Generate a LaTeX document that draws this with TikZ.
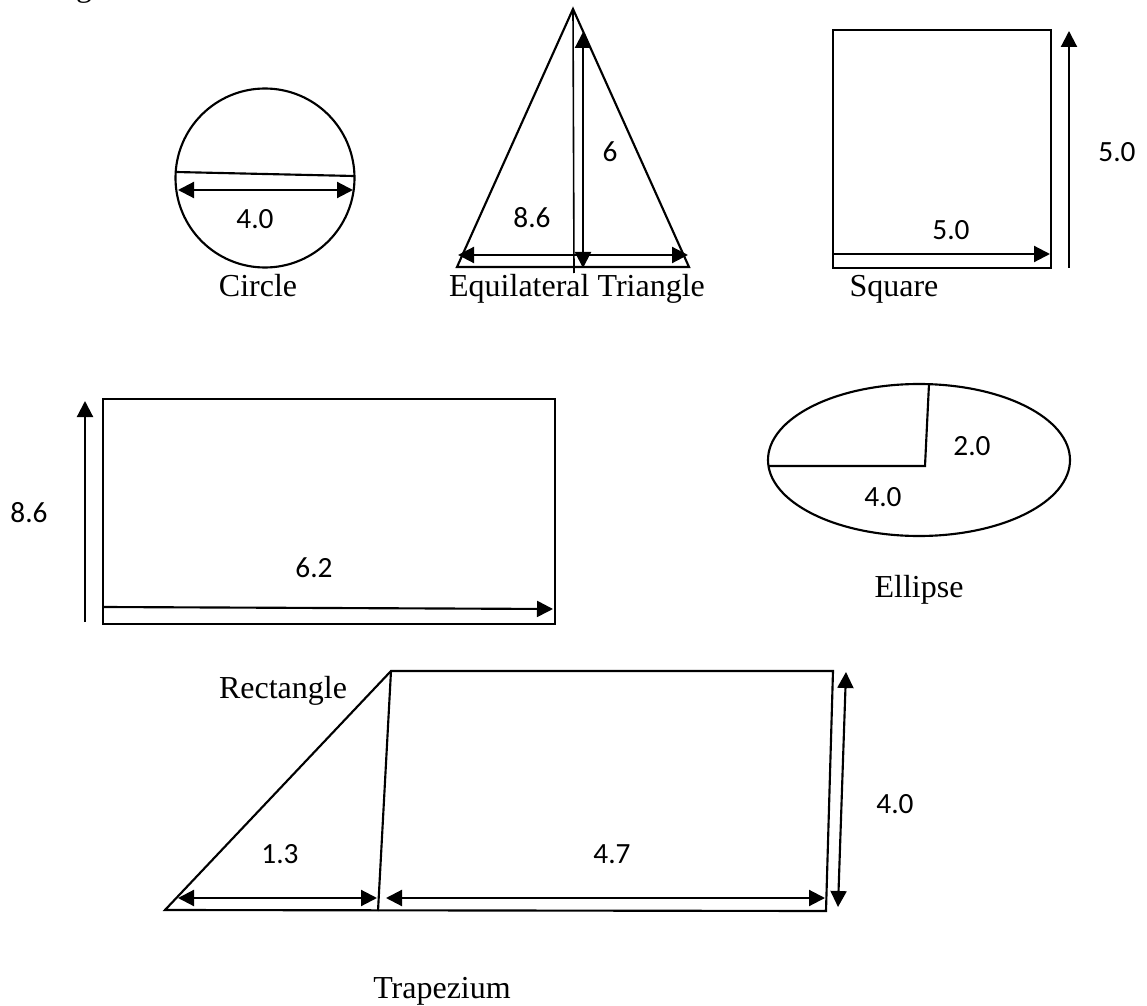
\documentclass[tikz,border=0pt]{standalone}
\usepackage{fontspec}
\setmainfont{Liberation Serif}
\newfontfamily\dimfont{Carlito}
\usetikzlibrary{arrows.meta}

\begin{document}
\begin{tikzpicture}[x=0.375pt, y=-0.375pt, line width=0.8pt,
  dimone/.style={-{Triangle[length=6pt,width=6pt]}},
  dimtwo/.style={{Triangle[length=6pt,width=6pt]}-{Triangle[length=6pt,width=6pt]}},
  dimlabel/.style={font=\dimfont\fontsize{11}{13}\selectfont, inner sep=0pt},
  caption/.style={font=\fontsize{12}{14}\selectfont, inner sep=0pt, anchor=base}]
  \useasboundingbox (0,0) rectangle (1147,1006);
  % cut-off line above
  \node[caption, anchor=base west] (cut) at (75,-3.6) {g};

  % circle
  \coordinate (cc) at (265,178);
  \draw (cc) circle[radius=89.5];
  \coordinate (cd1) at (176,172); \coordinate (cd2) at (354,176);
  \draw (cd1) -- (cd2);
  \coordinate (ca1) at (178,190); \coordinate (ca2) at (353,190);
  \draw[dimtwo] (ca1) -- (ca2);

  % triangle
  \coordinate (ta) at (573,9); \coordinate (tl) at (457,267); \coordinate (tr) at (689,267);
  \draw (tl) -- (ta) -- (tr) -- cycle;
  \coordinate (tf) at (574,273);
  \draw[line width=0.6pt] (ta) -- (tf);
  \coordinate (tv1) at (583,32); \coordinate (tv2) at (583,268);
  \draw[dimtwo] (tv1) -- (tv2);
  \coordinate (th1) at (458,255); \coordinate (th2) at (688,255);
  \draw[dimtwo] (th1) -- (th2);

  % square
  \coordinate (sq1) at (833,30); \coordinate (sq2) at (1051,268);
  \draw (sq1) rectangle (sq2);
  \coordinate (sa1) at (833,254); \coordinate (sa2) at (1050,254);
  \draw[dimone] (sa1) -- (sa2);
  \coordinate (sv1) at (1069,268); \coordinate (sv2) at (1069,31);
  \draw[dimone] (sv1) -- (sv2);

  % rectangle
  \coordinate (re1) at (103,399); \coordinate (re2) at (555,624);
  \draw (re1) rectangle (re2);
  \coordinate (ra1) at (103,607); \coordinate (ra2) at (553,609);
  \draw[dimone] (ra1) -- (ra2);
  \coordinate (rv1) at (85,622); \coordinate (rv2) at (85,401);
  \draw[dimone] (rv1) -- (rv2);

  % ellipse
  \coordinate (ee) at (919,460);
  \draw (ee) ellipse[x radius=151, y radius=76];
  \coordinate (ec) at (925,466); \coordinate (et) at (929,384); \coordinate (el) at (769,466);
  \draw (et) -- (ec) -- (el);

  % trapezium
  \coordinate (tz1) at (165,910); \coordinate (tz2) at (391,671);
  \coordinate (tz3) at (833,671); \coordinate (tz4) at (826,911);
  \draw (tz1) -- (tz2) -- (tz3) -- (tz4) -- cycle;
  \coordinate (tzd) at (378,911);
  \draw (tz2) -- (tzd);
  \coordinate (tb1) at (178,898); \coordinate (tb2) at (377,898);
  \draw[dimtwo] (tb1) -- (tb2);
  \coordinate (tb3) at (386,898); \coordinate (tb4) at (825,898);
  \draw[dimtwo] (tb3) -- (tb4);
  \coordinate (tzv1) at (846,672); \coordinate (tzv2) at (838,907);
  \draw[dimtwo] (tzv1) -- (tzv2);

  % labels
  \foreach \x/\y/\t [count=\i] in {255/219/4.0, 610/152/6, 532/218/8.6, 951/230/5.0,
      1117/152/5.0, 29/513/8.6, 314/568/6.2, 972/446/2.0, 883/497/4.0,
      280/854/1.3, 612/854/4.7, 895/804/4.0}{%
    \node[dimlabel] (dim\i) at (\x,\y) {\t};
  }
  \foreach \x/\y/\t [count=\i] in {258/296/Circle, 577/296/Equilateral Triangle,
      894/296/Square, 919/597/Ellipse, 283/698/Rectangle, 442/998/Trapezium}{%
    \node[caption] (cap\i) at (\x,\y) {\t};
  }
\end{tikzpicture}
\end{document}
